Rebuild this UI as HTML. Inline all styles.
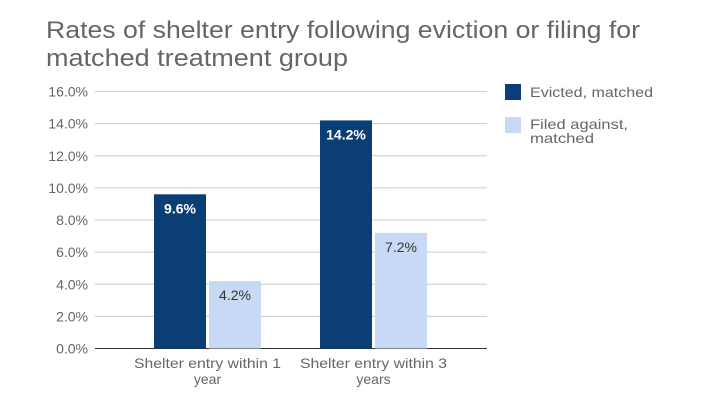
<!DOCTYPE html>
<html><head><meta charset="utf-8"><style>
body{margin:0;background:#fff;}
svg{display:block;font-family:"Liberation Sans",sans-serif;}
</style></head><body>
<svg id="c" width="720" height="405">
<text x="46" y="38" font-size="24" fill="#666" textLength="594" lengthAdjust="spacingAndGlyphs">Rates of shelter entry following eviction or filing for</text>
<text x="46" y="66" font-size="24" fill="#666" textLength="302" lengthAdjust="spacingAndGlyphs">matched treatment group</text>
<g id="grid"></g><g id="bars"></g>
<rect x="505" y="84" width="16" height="16" fill="#0b3e75"/>
<text x="530" y="97" font-size="14" fill="#666" textLength="123" lengthAdjust="spacingAndGlyphs">Evicted, matched</text>
<rect x="505" y="117" width="16" height="16" fill="#c8d9f5"/>
<text x="530" y="129" font-size="14" fill="#666" textLength="98" lengthAdjust="spacingAndGlyphs">Filed against,</text>
<text x="530" y="143" font-size="14" fill="#666" textLength="64" lengthAdjust="spacingAndGlyphs">matched</text>
</svg>
<script>
const categories=[["Shelter entry within 1","year"],["Shelter entry within 3","years"]];
const evicted=[9.6,14.2];
const filed=[4.2,7.2];
const ticks=[0,2,4,6,8,10,12,14,16];
const NS="http://www.w3.org/2000/svg";
const x0=95,x1=487,yTop=91.5,yBot=348.5,vmax=16;
const y=v=>yBot-(v/vmax)*(yBot-yTop);
const cxOf=i=>207.5+166*i;
function mk(t,a,p){const e=document.createElementNS(NS,t);for(const k in a)e.setAttribute(k,a[k]);p.appendChild(e);return e;}
const g=document.getElementById('grid'),b=document.getElementById('bars');
ticks.forEach(t=>{
 const l=mk('line',{x1:x0,x2:x1,y1:y(t),y2:y(t),stroke:t===0?'#333':'#ccc','stroke-width':1},g);
 
 
 const tx=mk('text',{x:88,y:y(t)+5,'font-size':14,fill:'#666','text-anchor':'end'},g);
 tx.textContent=t.toFixed(1)+'%';
 
 
});
const bw=52,gap=3;
categories.forEach((c,i)=>{
 const cx=cxOf(i);
 [[evicted[i],'#0b3e75','#fff',cx-gap/2-bw,'bar-evicted'],[filed[i],'#c8d9f5','#333',cx+gap/2,'bar-filed']].forEach(([v,col,tc,bx,nm])=>{
  const r=mk('rect',{x:bx,y:y(v),width:bw,height:yBot-y(v),fill:col},b);
  
  
  const t=mk('text',{x:bx+bw/2,y:y(v)+19,'font-size':14,fill:tc,'text-anchor':'middle','font-weight':col==='#0b3e75'?'bold':'normal'},b);
  t.textContent=v.toFixed(1)+'%';
  
  
 });
 c.forEach((ln,k)=>{
  const a={x:cx,y:368+k*16,'font-size':14,fill:'#666','text-anchor':'middle'};
  if(k===0){a.textLength=147;a.lengthAdjust='spacingAndGlyphs';}
  const t=mk('text',a,b);
  t.textContent=ln;
  
  
 });
});
</script>
</body></html>
